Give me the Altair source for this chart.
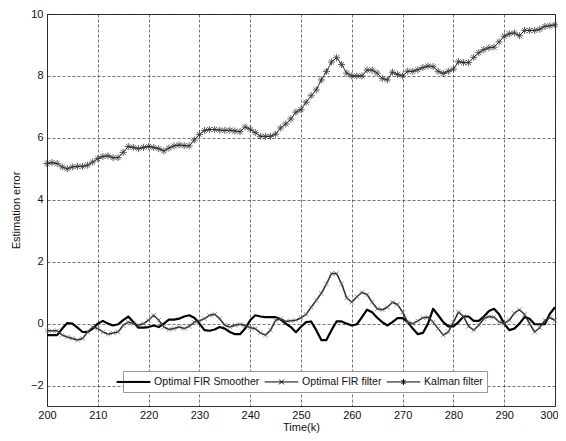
import altair as alt
import pandas as pd

k = list(range(200, 301))

kalman = [5.17, 5.20, 5.17, 5.06, 5.00, 5.06, 5.08, 5.08, 5.12, 5.22,
          5.33, 5.40, 5.42, 5.36, 5.36, 5.53, 5.72, 5.69, 5.65, 5.69,
          5.72, 5.69, 5.65, 5.58, 5.67, 5.74, 5.77, 5.75, 5.74, 5.93,
          6.11, 6.24, 6.27, 6.27, 6.25, 6.24, 6.25, 6.22, 6.20, 6.35,
          6.28, 6.17, 6.05, 6.05, 6.05, 6.12, 6.32, 6.45, 6.61, 6.83,
          6.91, 7.15, 7.36, 7.55, 7.87, 8.14, 8.45, 8.59, 8.37, 8.09,
          8.00, 8.00, 8.00, 8.19, 8.19, 8.09, 7.92, 7.87, 8.12, 8.05,
          8.00, 8.15, 8.15, 8.20, 8.27, 8.32, 8.30, 8.15, 8.08, 8.15,
          8.22, 8.46, 8.43, 8.43, 8.60, 8.75, 8.85, 8.91, 8.93, 9.10,
          9.28, 9.36, 9.39, 9.30, 9.47, 9.47, 9.47, 9.51, 9.60, 9.62,
          9.65]

fir_filter = [-0.23, -0.23, -0.23, -0.37, -0.43, -0.48, -0.53, -0.48, -0.27, -0.11,
              -0.16, -0.27, -0.34, -0.30, -0.27, -0.05, 0.05, 0.00, -0.05, 0.00,
              0.11, 0.27, 0.11, -0.11, -0.19, -0.16, -0.11, -0.16, -0.09, 0.05,
              0.09, 0.16, 0.27, 0.30, 0.16, -0.05, -0.11, -0.05, -0.02, -0.06,
              -0.13, -0.16, -0.30, -0.37, -0.21, 0.11, 0.16, 0.07, 0.09, 0.11,
              0.19, 0.30, 0.53, 0.75, 0.98, 1.28, 1.62, 1.62, 1.28, 0.83,
              0.69, 0.87, 1.01, 0.94, 0.69, 0.48, 0.45, 0.53, 0.69, 0.62,
              0.37, 0.05, 0.00, 0.09, 0.19, 0.21, 0.05, -0.16, -0.37, -0.27,
              0.05, 0.37, 0.23, -0.09, -0.21, -0.05, 0.16, 0.23, 0.21, 0.05,
              0.00, 0.11, 0.34, 0.45, 0.30, 0.00, -0.27, -0.13, 0.11, 0.19,
              0.11]

fir_smoother = [-0.37, -0.37, -0.37, -0.16, 0.02, 0.00, -0.13, -0.27, -0.27, -0.16,
                0.00, 0.09, 0.00, -0.06, -0.02, 0.11, 0.23, 0.05, -0.13, -0.13,
                -0.11, -0.06, -0.11, 0.00, 0.13, 0.13, 0.16, 0.23, 0.27, 0.19,
                0.00, -0.21, -0.23, -0.19, -0.11, -0.16, -0.27, -0.34, -0.34, -0.16,
                0.11, 0.27, 0.23, 0.21, 0.21, 0.21, 0.13, 0.00, -0.11, -0.28,
                -0.10, 0.05, 0.07, -0.21, -0.53, -0.53, -0.21, 0.07, 0.07, 0.00,
                -0.06, -0.02, 0.21, 0.45, 0.37, 0.19, 0.05, -0.06, 0.05, 0.18,
                0.18, 0.05, -0.16, -0.34, -0.30, 0.00, 0.48, 0.27, 0.05, -0.09,
                -0.09, 0.05, 0.23, 0.23, 0.09, 0.09, 0.23, 0.41, 0.48, 0.30,
                0.00, -0.21, -0.16, 0.00, 0.21, 0.16, -0.02, -0.02, -0.02, 0.32,
                0.53]

series_names = ["Optimal FIR Smoother", "Optimal FIR filter", "Kalman filter"]

rows = []
for name, vals in zip(series_names, [fir_smoother, fir_filter, kalman]):
    for kk, v in zip(k, vals):
        rows.append({"k": kk, "value": v, "series": name})
df = pd.DataFrame(rows)

FONT = "Liberation Sans"

x_enc = alt.X("k:Q", scale=alt.Scale(domain=[200, 300], nice=False),
              axis=alt.Axis(values=list(range(200, 301, 10)), title="Time(k)",
                            format="d", labelFlush=False,
                            labelOffset={"condition": {"test": "datum.value == 300", "value": -6},
                                         "value": 0}))
y_enc = alt.Y("value:Q", scale=alt.Scale(domain=[-2.66, 10], nice=False, zero=False),
              axis=alt.Axis(values=[-2, 0, 2, 4, 6, 8, 10], title="Estimation error",
                            labelFlush=False))

lines = alt.Chart(df).mark_line(strokeJoin="round").encode(
    x=x_enc,
    y=y_enc,
    detail="series:N",
    color=alt.Color("series:N", scale=alt.Scale(domain=series_names,
                    range=["#000000", "#2a2a2a", "#000000"]), legend=None),
    strokeWidth=alt.StrokeWidth("series:N", scale=alt.Scale(domain=series_names,
                    range=[2.2, 0.8, 0.9]), legend=None),
)

star_path = "M-1,0L1,0M0,-1L0,1M-0.7,-0.7L0.7,0.7M-0.7,0.7L0.7,-0.7"
x_path = "M-1,-1L1,1M-1,1L1,-1"

markers = alt.Chart(df).transform_filter(
    alt.datum.series != "Optimal FIR Smoother"
).mark_point(filled=False, strokeWidth=1).encode(
    x="k:Q",
    y="value:Q",
    shape=alt.Shape("series:N", scale=alt.Scale(domain=["Optimal FIR filter", "Kalman filter"],
                    range=[x_path, star_path]), legend=None),
    stroke=alt.Stroke("series:N", scale=alt.Scale(domain=["Optimal FIR filter", "Kalman filter"],
                    range=["#6a6a6a", "#1e1e1e"]), legend=None),
    size=alt.Size("series:N", scale=alt.Scale(domain=["Optimal FIR filter", "Kalman filter"],
                    range=[20, 50]), legend=None),
)

leg_paths = [
    "M-2.8,-0.09L2.8,-0.09M-2.8,0L2.8,0M-2.8,0.09L2.8,0.09",
    "M-2.8,0L2.8,0M-0.4,-0.4L0.4,0.4M-0.4,0.4L0.4,-0.4",
    "M-2.8,0L2.8,0M0,-0.5L0,0.5M-0.36,-0.36L0.36,0.36M-0.36,0.36L0.36,-0.36",
]

legend_layer = alt.Chart(df).transform_filter("false").mark_point(
    filled=False, color="black", strokeWidth=1
).encode(
    x="k:Q",
    y="value:Q",
    shape=alt.Shape("series:N", scale=alt.Scale(domain=series_names, range=leg_paths),
                    legend=alt.Legend(
                        title=None, orient="none", legendX=76, legendY=357,
                        direction="horizontal", columns=3,
                        symbolSize=144, symbolStrokeColor="black",
                        symbolStrokeWidth=1, symbolOpacity=1,
                        labelFont=FONT, labelFontSize=10.6, labelColor="#111",
                        labelOffset=14, columnPadding=2, padding=4,
                        fillColor="white", strokeColor="#999999",
                        labelLimit=300)),
)

chart = alt.layer(lines, markers, legend_layer).resolve_scale(
    shape="independent", color="independent"
).properties(
    width=508, height=392,
    autosize=alt.AutoSizeParams(type="none"),
    padding={"left": 39, "top": 6, "right": 3, "bottom": 27},
).configure_view(
    stroke="#333333", strokeWidth=1
).configure_axis(
    labelFont=FONT, labelFontSize=11, labelColor="#111",
    titleFont=FONT, titleFontSize=11, titleColor="#111", titleFontWeight="normal",
    grid=True, gridColor="#222222", gridDash=[3, 2], gridWidth=0.7, gridOpacity=0.9,
    ticks=False, domain=False, labelPadding=4,
).configure_axisY(
    titlePadding=9,
).configure_axisX(
    titlePadding=1, labelPadding=3,
)

chart.save("out.html", embed_options={"renderer": "svg", "actions": False})
